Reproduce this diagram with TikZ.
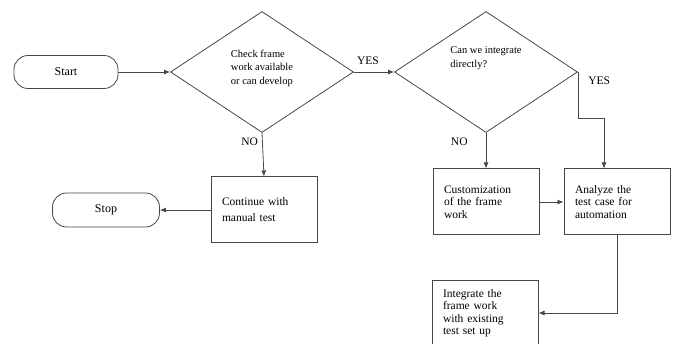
\documentclass[tikz,border=0pt]{standalone}
\usepackage{fontspec}
\setmainfont{Liberation Serif}
\usetikzlibrary{shapes.geometric,arrows.meta}
\colorlet{lineGray}{black!72}
\tikzstyle{terminal} = [
 rectangle,
 rounded corners=14pt,
 draw=lineGray,
 line width=0.8pt,
 minimum width=104pt,
 minimum height=33pt,
 font=\fontsize{12}{14}\selectfont
]
\tikzstyle{decision} = [
 diamond,
 draw=lineGray,
 line width=0.8pt,
 aspect=1.5,
 minimum width=183pt,
 minimum height=121pt
]
\tikzstyle{decisionText} = [
 align=left,
 inner sep=0pt,
 font=\fontsize{10.5}{13.5}\selectfont
]
\tikzstyle{process} = [
 rectangle,
 draw=lineGray,
 line width=1pt,
 minimum width=106pt,
 minimum height=66pt,
 text width=84pt,
 inner xsep=11pt,
 align=left,
 font=\fontsize{11.5}{12.5}\selectfont
]
\tikzstyle{flow} = [
 draw=lineGray,
 line width=0.8pt,
 -{Latex[length=6pt,width=5pt]}
]
\tikzstyle{answer} = [
 font=\fontsize{11.5}{13}\selectfont,
 inner sep=1pt
]

\begin{document}
\begin{tikzpicture}[x=1pt,y=-1pt]
  \useasboundingbox (0,0) rectangle (673,344);
  \node [terminal] (start) at (66,72) {Start};
  \node [decision] (check) at (262,72) {};
  \node [decisionText] (checkText) at ([yshift=4pt]check.center) {Check frame\\work available\\or can develop};
  \node [decision] (direct) at (486,72) {};
  \node [decisionText] (directText) at ([yshift=14pt]direct.center) {Can we integrate\\directly?};
  \node [process, font=\fontsize{11.5}{16}\selectfont] (manual) at (264,210) {Continue with\\manual test};
  \node [terminal, minimum width=107pt, minimum height=34pt] (stop) at (106,210) {Stop};
  \node [process] (custom) at (486,202) {Customization\\of the frame\\work\\[6pt]};
  \node [process] (analyze) at (617,202) {Analyze the\\test case for\\automation\\[6pt]};
  \node [process, minimum height=64pt] (integ) at (485,313) {Integrate the\\frame work\\with existing\\test set up};

  \draw [flow] (start.east) -- (check.west);
  \draw [flow] (check.east) -- node[answer, above=6pt, pos=.35] {YES} (direct.west);
  \draw [flow] (check.south) -- node[answer, left=3pt, pos=.2] {NO} (manual.north);
  \draw [flow] (manual.west) -- (stop.east);
  \draw [flow] (direct.south) -- node[answer, left=17pt, pos=.25] {NO} (custom.north);
  \draw [flow] (direct.east) -- node[answer, right=9pt, pos=.2] {YES} ++(0,46)
    -| ([xshift=-13pt]analyze.north);
  \draw [flow] (custom.east) -- (analyze.west);
  \draw [flow] (analyze.south) |- (integ.east);
\end{tikzpicture}
\end{document}
